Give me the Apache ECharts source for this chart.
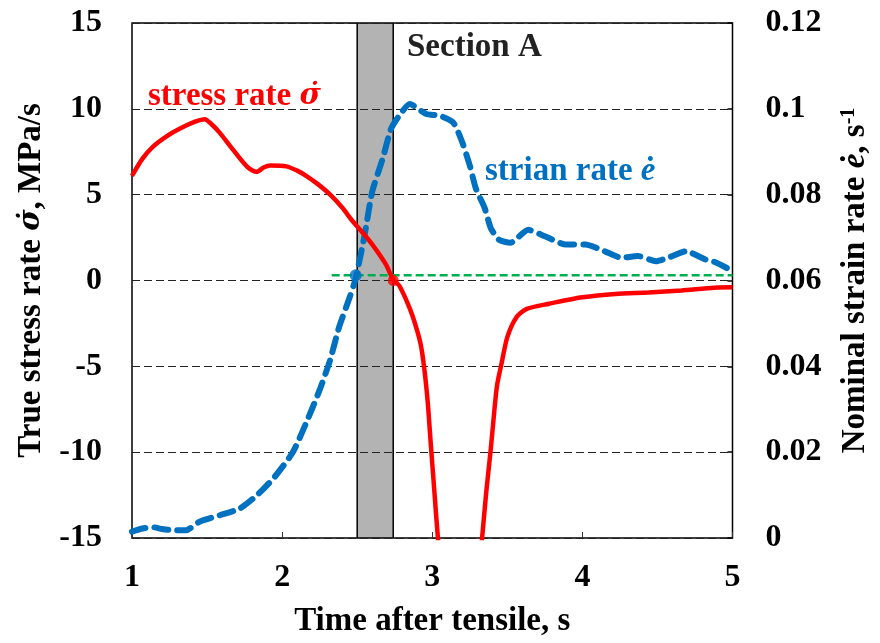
<!DOCTYPE html>
<html>
<head>
<meta charset="utf-8">
<script src="https://cdn.jsdelivr.net/npm/echarts@6/dist/echarts.min.js"></script>
<style>
html,body{margin:0;padding:0;background:#fff;overflow:hidden;}
#chart{width:880px;height:643px;display:block;}
</style>
</head>
<body>
<div id="chart"></div>
<script>
// Stress rate (left axis, MPa/s)
const stressTime = [1.0,1.07,1.14,1.23,1.32,1.42,1.485,1.53,1.585,1.67,1.77,1.83,1.88,1.92,2.03,2.1,2.16,2.24,2.32,2.4,2.47,2.54,2.6,2.69,2.74,2.78,2.83,2.87,2.92,2.945,2.97,2.99,3.01,3.04,3.12,3.2,3.28,3.33,3.36,3.39,3.43,3.46,3.5,3.56,3.63,3.78,4.0,4.22,4.44,4.66,4.88,5.0];
const stressRate = [6.1,7.1,7.8,8.4,8.85,9.25,9.4,9.1,8.6,7.65,6.6,6.33,6.6,6.7,6.65,6.4,6.1,5.6,5.0,4.25,3.45,2.75,2.1,0.95,0.05,-0.3,-1.2,-2.1,-3.6,-5.0,-7.1,-9.5,-11.8,-15.2,-22,-25,-20,-15.2,-12.3,-9.8,-6.2,-4.9,-3.3,-2.15,-1.65,-1.35,-0.98,-0.78,-0.7,-0.58,-0.42,-0.4];
// Nominal strain rate (right axis, 1/s)
const strainTime = [1.0,1.07,1.14,1.2,1.275,1.36,1.45,1.585,1.72,1.83,1.94,2.07,2.16,2.25,2.32,2.38,2.45,2.49,2.55,2.6,2.67,2.725,2.78,2.85,2.96,3.05,3.14,3.2,3.25,3.29,3.35,3.39,3.445,3.52,3.64,3.75,3.89,4.02,4.15,4.26,4.37,4.49,4.57,4.69,4.82,4.89,5.0];
const strainRate = [0.0015,0.0022,0.0025,0.0021,0.0018,0.0018,0.0038,0.0053,0.0069,0.0099,0.0138,0.0199,0.0268,0.0345,0.0415,0.0492,0.0561,0.0605,0.0707,0.0807,0.0884,0.0953,0.0984,0.1011,0.0988,0.0984,0.0968,0.0922,0.0868,0.0815,0.0768,0.0722,0.0695,0.0688,0.0718,0.0703,0.0684,0.0684,0.0668,0.0653,0.0657,0.0645,0.0653,0.0668,0.0649,0.0642,0.0622];
// Section A band and threshold line
const sectionA = [2.5, 2.74];
const thresholdTime = [2.33, 5.0];
const thresholdStress = 0.3;
const strainPoint = [2.49, 0.0612];
const stressPoint = [2.74, 0];
// Axis ticks
const xTicks = [1, 5, 1];
const leftTicks = [-15, 15, 5];
const rightTicks = [0, 0.12, 0.02];

const FONT = "'Liberation Serif','Times New Roman',serif";
const MFONT = "'DejaVu Serif','Liberation Serif',serif";
const chart = echarts.init(document.getElementById('chart'), null, {renderer:'canvas', width:880, height:643});
const zip = (a,b) => a.map((v,i)=>[v,b[i]]);
const lblStyle = {fontFamily:FONT, fontWeight:'bold', fontSize:32, color:'#000'};
const titleStyle = {fontFamily:FONT, fontWeight:'bold', fontSize:33, color:'#000'};
const gridDash = {color:'#222', width:1, type:[8,4]};

chart.setOption({
  animation:false,
  backgroundColor:'#fff',
  grid:{left:132, right:146, top:23, bottom:100, show:true, borderColor:'#000', borderWidth:1.5, backgroundColor:'transparent'},
  xAxis:{
    type:'value', min:xTicks[0], max:xTicks[1], interval:xTicks[2], position:'bottom',
    name:'Time after tensile, s', nameLocation:'middle', nameGap:67,
    nameTextStyle:titleStyle,
    axisLine:{show:false, onZero:false}, splitLine:{show:false},
    axisTick:{show:true, inside:true, length:6, lineStyle:{color:'#333', width:1}},
    axisLabel:Object.assign({margin:24}, lblStyle)
  },
  yAxis:[{
    type:'value', min:leftTicks[0], max:leftTicks[1], interval:leftTicks[2], z:2,
    name:'True stress rate {i|σ\u0307}, MPa/s', nameLocation:'middle', nameGap:84,
    nameTextStyle:Object.assign({rich:{i:{fontFamily:MFONT,fontWeight:'bold',fontStyle:'italic',fontSize:29,color:'#000'}}}, titleStyle),
    axisLine:{show:false, onZero:false},
    axisTick:{show:false},
    splitLine:{show:true, lineStyle:gridDash},
    axisLabel:Object.assign({margin:30}, lblStyle)
  },{
    type:'value', min:rightTicks[0], max:rightTicks[1], interval:rightTicks[2], position:'right', z:2,
    name:'Nominal strain rate {i|ė}, s{sup|-1}', nameLocation:'middle', nameGap:106,
    nameTextStyle:Object.assign({rich:{
      i:{fontFamily:FONT,fontWeight:'bold',fontStyle:'italic',fontSize:33,color:'#000'},
      sup:{fontFamily:FONT,fontWeight:'bold',fontSize:20,color:'#000',verticalAlign:'top',padding:[0,0,14,0]}
    }}, titleStyle),
    axisLine:{show:false, onZero:false},
    axisTick:{show:true, inside:true, length:5, lineStyle:{color:'#000', width:1.5}},
    splitLine:{show:false},
    axisLabel:Object.assign({margin:33}, lblStyle)
  }],
  series:[
    {
      type:'custom', yAxisIndex:0, z:1, silent:true, clip:true,
      data:[sectionA],
      renderItem:function(params, api){
        const p0 = api.coord([api.value(0), leftTicks[1]]);
        const p1 = api.coord([api.value(1), leftTicks[0]]);
        return {type:'rect', shape:{x:p0[0], y:p0[1], width:p1[0]-p0[0], height:p1[1]-p0[1]},
          style:{fill:'#b3b3b3', stroke:'#000', lineWidth:1.5}};
      }
    },
    {
      type:'line', yAxisIndex:0, data:thresholdTime.map(t=>[t,thresholdStress]), symbol:'none', z:3,
      lineStyle:{color:'#00B050', width:2.5, type:[8,4]}
    },
    {
      type:'line', yAxisIndex:1, data:zip(strainTime,strainRate), symbol:'none', smooth:0.2, z:4,
      lineStyle:{color:'#0070C0', width:6, type:[14,9], cap:'round'}
    },
    {
      type:'line', yAxisIndex:0, data:zip(stressTime,stressRate), symbol:'none', smooth:0.25, z:5, clip:true,
      lineStyle:{color:'#FF0000', width:4.5}
    },
    {
      type:'scatter', yAxisIndex:1, data:[strainPoint], symbolSize:12, z:6,
      itemStyle:{color:'#0070C0'}
    },
    {
      type:'scatter', yAxisIndex:0, data:[stressPoint], symbolSize:11, z:6,
      itemStyle:{color:'#FF0000'}
    }
  ],
  graphic:[
    {type:'text', left:148, top:80, z:10, style:{
      text:'stress rate {i|σ\u0307}', fill:'#FF0000', font:"bold 33px "+FONT,
      rich:{i:{fontFamily:MFONT,fontWeight:'bold',fontStyle:'italic',fontSize:29,fill:'#FF0000'}}
    }},
    {type:'text', left:485, top:155, z:10, style:{
      text:'strian rate {i|ė}', fill:'#0070C0', font:"bold 33px "+FONT,
      rich:{i:{fontFamily:FONT,fontWeight:'bold',fontStyle:'italic',fontSize:33,fill:'#0070C0'}}
    }},
    {type:'text', left:407, top:31, z:10, style:{
      text:'Section A', fill:'#222', font:"bold 33px "+FONT
    }}
  ]
});
</script>
</body>
</html>
